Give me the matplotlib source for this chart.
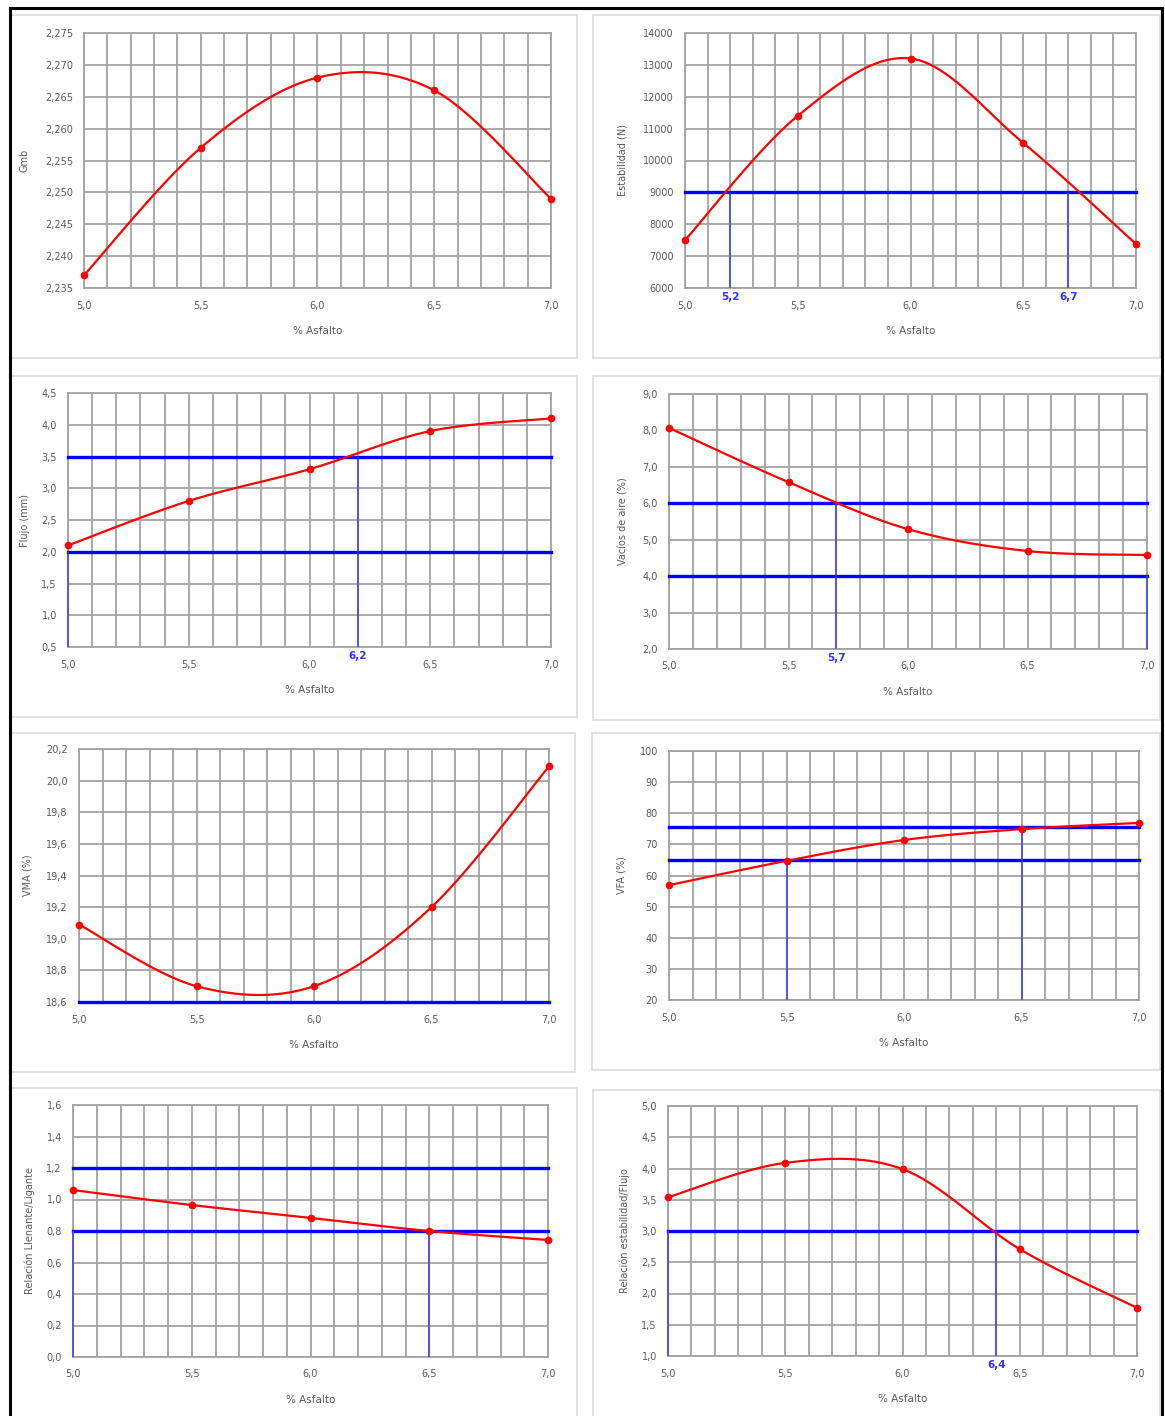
import numpy as np
import matplotlib.pyplot as plt
from matplotlib.patches import Rectangle
from matplotlib.lines import Line2D
from matplotlib.ticker import MultipleLocator

W, H = 1165, 1416

# datos del diseño Marshall
asfalto = [5.0, 5.5, 6.0, 6.5, 7.0]
gmb = [2.237, 2.257, 2.268, 2.266, 2.249]
estabilidad = [7500, 11400, 13200, 10550, 7380]
flujo = [2.1, 2.8, 3.3, 3.9, 4.1]
vacios = [8.07, 6.58, 5.29, 4.69, 4.58]
vma = [19.09, 18.70, 18.70, 19.20, 20.09]
vfa = [56.9, 64.7, 71.4, 74.9, 76.9]
llenante = [1.06, 0.965, 0.883, 0.80, 0.743]
est_flujo = [3.54, 4.09, 3.99, 2.71, 1.77]

# limites de especificacion (lineas azules)
lim_estabilidad = [9000]
lim_flujo = [3.5, 2.0]
lim_vacios = [6.0, 4.0]
lim_vma = [18.6]
lim_vfa = [75.5, 65]
lim_llenante = [1.2, 0.8]
lim_est_flujo = [3.0]

# cortes verticales: (x, y tope, etiqueta)
cortes_estabilidad = [(5.2, 9000, '5,2'), (6.7, 9000, '6,7')]
cortes_flujo = [(5.0, 2.0, ''), (6.2, 3.5, '6,2')]
cortes_vacios = [(5.7, 6.0, '5,7'), (7.0, 4.0, '')]
cortes_vfa = [(5.5, 65, ''), (6.5, 75.5, '')]
cortes_llenante = [(5.0, 0.8, ''), (6.5, 0.8, '')]
cortes_est_flujo = [(5.0, 3.0, ''), (6.4, 3.0, '6,4')]

GRIS = '#a3a3a3'
TXT = '#595959'
AZUL = '#0000ff'


def suave(x, y, n=30):
    """curva suavizada tipo Excel (bezier / catmull-rom)"""
    x = np.asarray(x, float)
    y = np.asarray(y, float)
    px = np.concatenate([[x[0]], x, [x[-1]]])
    py = np.concatenate([[y[0]], y, [y[-1]]])
    xs, ys = [], []
    t = np.linspace(0, 1, n)
    for i in range(1, len(px) - 2):
        p0 = np.array([px[i], py[i]])
        p3 = np.array([px[i + 1], py[i + 1]])
        p1 = p0 + (p3 - np.array([px[i - 1], py[i - 1]])) / 6
        p2 = p3 - (np.array([px[i + 2], py[i + 2]]) - p0) / 6
        b = ((1 - t) ** 3)[:, None] * p0 + (3 * (1 - t) ** 2 * t)[:, None] * p1 \
            + (3 * (1 - t) * t ** 2)[:, None] * p2 + (t ** 3)[:, None] * p3
        xs.extend(b[:, 0])
        ys.extend(b[:, 1])
    return xs, ys


def caja(l, t, r, b):
    fig.add_artist(Rectangle((l / W, 1 - b / H), (r - l) / W, (b - t) / H,
                             transform=fig.transFigure, fill=False,
                             edgecolor='#dcdcdc', lw=1.2, zorder=0))


def panel(rect, y, ylim, paso, fmt, ylabel, ylab_x, lims=(), cortes=()):
    l, t, r, b = rect
    ax = fig.add_axes([l / W, 1 - b / H, (r - l) / W, (b - t) / H])
    ax.set_xlim(5.0, 7.0)
    ax.set_ylim(*ylim)
    ax.xaxis.set_minor_locator(MultipleLocator(0.1))
    xt = [5.0, 5.5, 6.0, 6.5, 7.0]
    ax.set_xticks(xt)
    ax.set_xticklabels([('%.1f' % v).replace('.', ',') for v in xt])
    yt = np.arange(ylim[0], ylim[1] + paso / 2, paso)
    ax.set_yticks(yt)
    ax.set_yticklabels([(fmt % v).replace('.', ',') for v in yt])
    ax.tick_params(which='both', length=0, colors=TXT, labelsize=7)
    ax.tick_params(axis='x', pad=9)
    ax.tick_params(axis='y', pad=8)
    ax.grid(True, which='both', color=GRIS, lw=1.3)
    for s in ax.spines.values():
        s.set_color(GRIS)
        s.set_linewidth(1.3)
    ax.set_axisbelow(True)

    for v in lims:
        ax.axhline(v, color=AZUL, lw=2.4, zorder=3, clip_on=False)
    for xc, ytop, lab in cortes:
        ax.vlines(xc, ylim[0], ytop, color='#3c3cff', lw=1.1, zorder=3, clip_on=False)
        if lab:
            ax.annotate(lab, (xc, ylim[0]), xytext=(0, -3), textcoords='offset points',
                        ha='center', va='top', color='#3030ff', fontsize=7.5,
                        fontweight='bold', annotation_clip=False)

    xs, ys = suave(asfalto, y)
    ax.plot(xs, ys, color='#ff0000', lw=1.6, zorder=4, clip_on=False)
    ax.plot(asfalto, y, 'o', color='#ff0000', ms=4.5, zorder=5, clip_on=False)

    fig.text(((l + r) / 2) / W, 1 - (b + 43) / H, '% Asfalto', ha='center',
             va='center', color=TXT, fontsize=7.5)
    fig.text(ylab_x / W, 1 - ((t + b) / 2) / H, ylabel, ha='center', va='center',
             rotation=90, color=TXT, fontsize=7)
    return ax


fig = plt.figure(figsize=(W / 100, H / 100), dpi=100)

# cajas de cada grafico
caja(11, 15, 577, 358)
caja(593, 15, 1160, 358)
caja(11, 376, 577, 717)
caja(593, 376, 1160, 720)
caja(11, 733, 575, 1072)
caja(592, 733, 1160, 1070)
caja(11, 1088, 577, 1420)
caja(593, 1090, 1160, 1420)

panel((84, 33, 551, 288), gmb, (2.235, 2.275), 0.005, '%.3f', 'Gmb', 25)
panel((685, 33, 1136, 288), estabilidad, (6000, 14000), 1000, '%.0f',
      'Estabilidad (N)', 623, lim_estabilidad, cortes_estabilidad)
panel((68, 393, 551, 647), flujo, (0.5, 4.5), 0.5, '%.1f', 'Flujo (mm)', 25,
      lim_flujo, cortes_flujo)
panel((669, 394, 1147, 649), vacios, (2.0, 9.0), 1.0, '%.1f',
      'Vacíos de aire (%)', 624, lim_vacios, cortes_vacios)
panel((79, 749, 549, 1002), vma, (18.6, 20.2), 0.2, '%.1f', 'VMA (%)', 28,
      lim_vma)
panel((669, 751, 1139, 1000), vfa, (20, 100), 10, '%.0f', 'VFA (%)', 622,
      lim_vfa, cortes_vfa)
panel((73, 1105, 548, 1357), llenante, (0.0, 1.6), 0.2, '%.1f',
      'Relación Llenante/Ligante', 30, lim_llenante, cortes_llenante)
panel((668, 1106, 1137, 1356), est_flujo, (1.0, 5.0), 0.5, '%.1f',
      'Relación estabilidad/Flujo', 625, lim_est_flujo, cortes_est_flujo)

# marco negro exterior
k = dict(color='black', lw=2.2, transform=fig.transFigure)
fig.add_artist(Line2D([9.5 / W, 9.5 / W], [0, 1 - 7.5 / H], **k))
fig.add_artist(Line2D([9.5 / W, 1162 / W], [1 - 7.5 / H, 1 - 7.5 / H], **k))
fig.add_artist(Line2D([1162 / W, 1162 / W], [0, 1 - 7.5 / H], **k))

fig.savefig('out.png', dpi=100)
